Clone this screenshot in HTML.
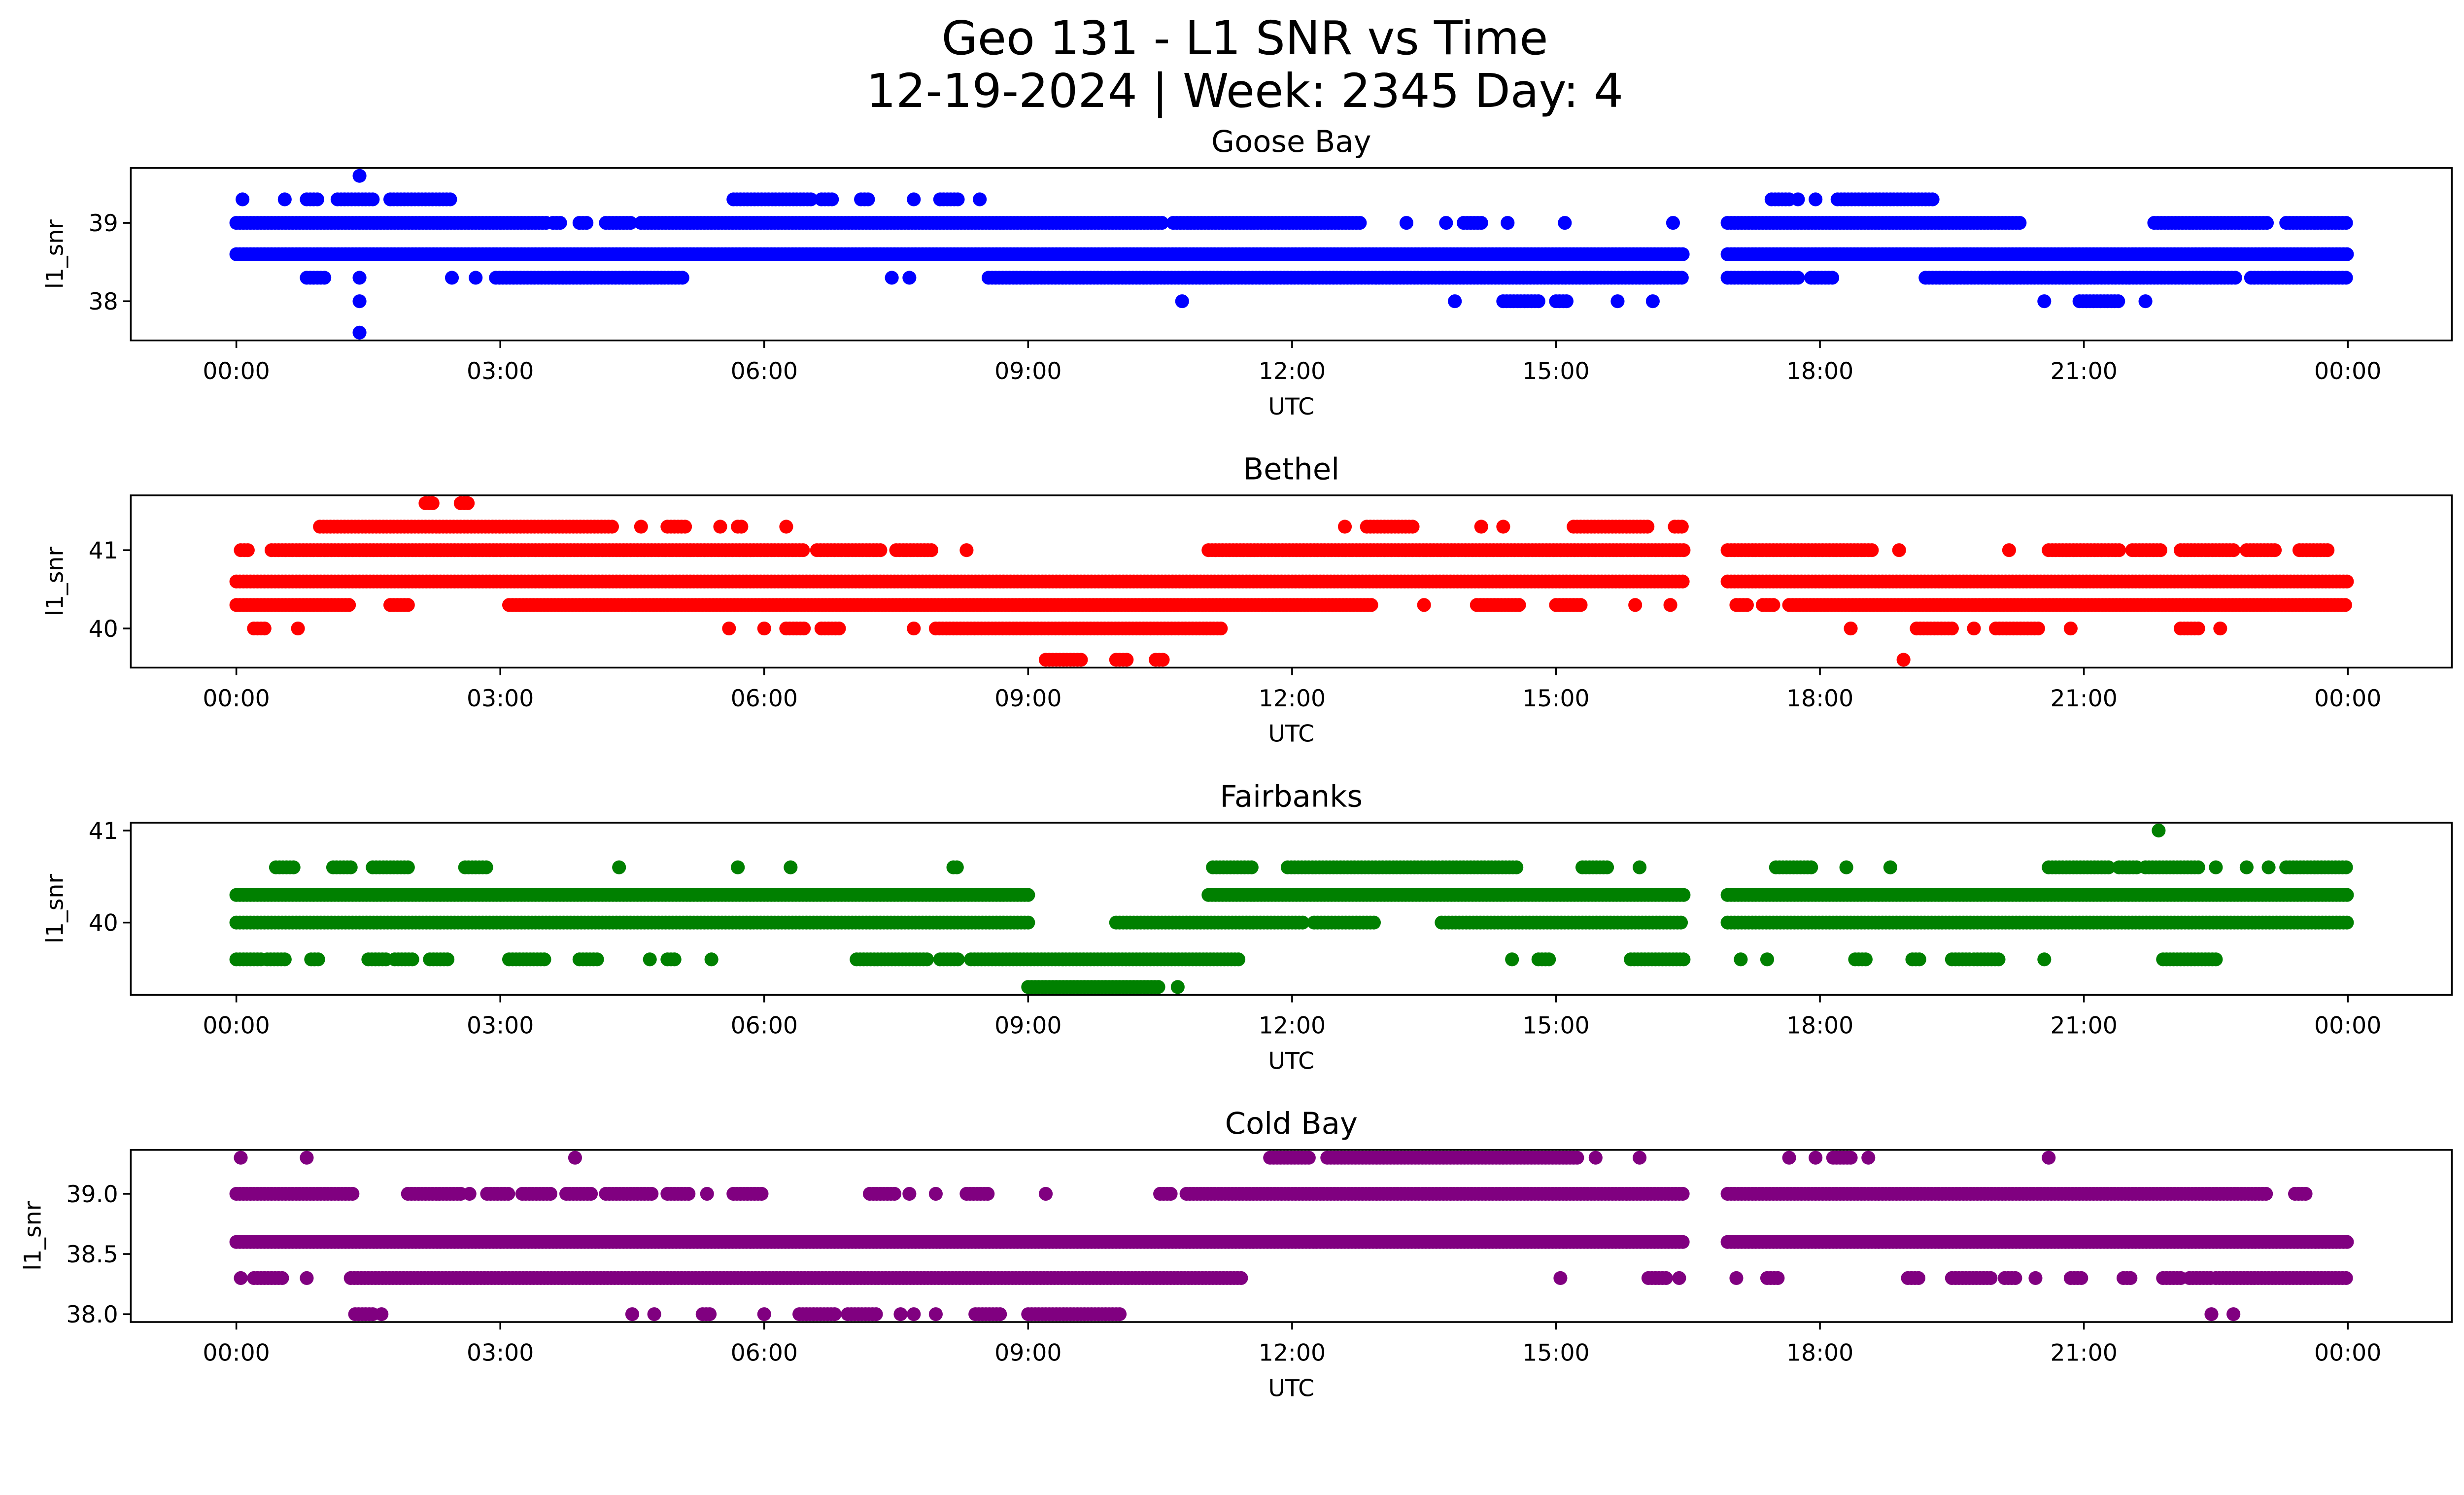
<!DOCTYPE html>
<html><head><meta charset="utf-8"><style>html,body{margin:0;padding:0;background:#fff;overflow:hidden}svg{display:block}text{font-family:"DejaVu Sans","Liberation Sans",sans-serif;fill:#000}</style></head>
<body>
<svg id="fig" xmlns="http://www.w3.org/2000/svg" width="5279" height="3033" style="width:5279px;height:3033px" viewBox="0 0 1651 948.5" preserveAspectRatio="xMinYMin meet">
<rect width="1651" height="948.5" fill="#fff"/>
<text x="790" y="34.4" font-size="29.6" text-anchor="middle">Geo 131 - L1 SNR vs Time</text>
<text x="790" y="67.8" font-size="29.6" text-anchor="middle">12-19-2024 | Week: 2345 Day: 4</text>
<g id="plots"></g>
</svg>
<script>
// Runs of observations: [startHour, endHour, snrValue]
const gooseBayRuns = [
[0,16.45,38.6],[16.95,24,38.6],
[0,3.55,39.0],[3.6,3.7,39.0],[3.9,4.0,39.0],[4.2,4.5,39.0],[4.6,10.55,39.0],[10.65,12.8,39.0],[13.3,13.3,39.0],[13.75,13.75,39.0],[13.95,14.15,39.0],[14.45,14.45,39.0],[15.1,15.1,39.0],[16.33,16.33,39.0],[16.95,20.3,39.0],[21.8,23.1,39.0],[23.3,24,39.0],
[0.07,0.07,39.3],[0.55,0.55,39.3],[0.8,0.95,39.3],[1.15,1.55,39.3],[1.75,2.45,39.3],[5.65,6.55,39.3],[6.65,6.8,39.3],[7.1,7.2,39.3],[7.7,7.7,39.3],[8.0,8.2,39.3],[8.45,8.45,39.3],[17.45,17.65,39.3],[17.75,17.75,39.3],[17.95,17.95,39.3],[18.2,19.3,39.3],
[0.8,1.0,38.3],[1.4,1.4,38.3],[2.45,2.45,38.3],[2.72,2.72,38.3],[2.95,5.1,38.3],[7.45,7.45,38.3],[7.65,7.65,38.3],[8.55,16.45,38.3],[16.95,17.75,38.3],[17.9,18.15,38.3],[19.2,22.75,38.3],[22.9,24,38.3],
[1.4,1.4,38.0],[10.75,10.75,38.0],[13.85,13.85,38.0],[14.4,14.8,38.0],[15.0,15.15,38.0],[15.7,15.7,38.0],[16.1,16.1,38.0],[20.55,20.55,38.0],[20.95,21.4,38.0],[21.7,21.7,38.0],
[1.4,1.4,37.6],[1.4,1.4,39.6]
];
const bethelRuns = [
[0,16.45,40.6],[16.95,24,40.6],
[0,1.3,40.3],[1.75,1.95,40.3],[3.1,12.9,40.3],[13.5,13.5,40.3],[14.1,14.6,40.3],[15.0,15.3,40.3],[15.9,15.9,40.3],[16.3,16.3,40.3],[17.05,17.2,40.3],[17.35,17.5,40.3],[17.65,24,40.3],
[0.05,0.15,41.0],[0.4,6.45,41.0],[6.6,7.35,41.0],[7.5,7.9,41.0],[8.3,8.3,41.0],[11.05,16.45,41.0],[16.95,18.6,41.0],[18.9,18.9,41.0],[20.15,20.15,41.0],[20.6,21.4,41.0],[21.55,21.9,41.0],[22.1,22.7,41.0],[22.85,23.2,41.0],[23.45,23.8,41.0],
[0.95,4.3,41.3],[4.6,4.6,41.3],[4.9,5.1,41.3],[5.5,5.5,41.3],[5.7,5.75,41.3],[6.25,6.25,41.3],[12.6,12.6,41.3],[12.85,13.4,41.3],[14.15,14.15,41.3],[14.4,14.4,41.3],[15.2,16.05,41.3],[16.35,16.45,41.3],
[2.15,2.25,41.6],[2.55,2.65,41.6],
[0.2,0.35,40.0],[0.7,0.7,40.0],[5.6,5.6,40.0],[6.0,6.0,40.0],[6.25,6.45,40.0],[6.65,6.85,40.0],[7.7,7.7,40.0],[7.95,11.2,40.0],[18.35,18.35,40.0],[19.1,19.5,40.0],[19.75,19.75,40.0],[20.0,20.5,40.0],[20.85,20.85,40.0],[22.1,22.3,40.0],[22.55,22.55,40.0],
[9.2,9.6,39.6],[10.0,10.15,39.6],[10.45,10.55,39.6],[18.95,18.95,39.6]
];
const fairbanksRuns = [
[0,9.0,40.3],[11.05,16.45,40.3],[16.95,24,40.3],
[0,9.0,40.0],[10.0,12.15,40.0],[12.25,12.95,40.0],[13.7,16.45,40.0],[16.95,24,40.0],
[0.45,0.65,40.6],[1.1,1.3,40.6],[1.55,1.95,40.6],[2.6,2.85,40.6],[4.35,4.35,40.6],[5.7,5.7,40.6],[6.3,6.3,40.6],[8.15,8.2,40.6],[11.1,11.55,40.6],[11.95,14.55,40.6],[15.3,15.6,40.6],[15.95,15.95,40.6],[17.5,17.9,40.6],[18.3,18.3,40.6],[18.8,18.8,40.6],[20.6,21.3,40.6],[21.4,21.6,40.6],[21.7,22.3,40.6],[22.5,22.5,40.6],[22.85,22.85,40.6],[23.1,23.1,40.6],[23.3,24,40.6],
[21.85,21.85,41.0],
[0,0.3,39.6],[0.35,0.55,39.6],[0.85,0.95,39.6],[1.5,1.7,39.6],[1.8,2.0,39.6],[2.2,2.4,39.6],[3.1,3.5,39.6],[3.9,4.1,39.6],[4.7,4.7,39.6],[4.9,5.0,39.6],[5.4,5.4,39.6],[7.05,7.85,39.6],[8.0,8.2,39.6],[8.35,11.4,39.6],[14.5,14.5,39.6],[14.8,14.95,39.6],[15.85,16.45,39.6],[17.1,17.1,39.6],[17.4,17.4,39.6],[18.4,18.55,39.6],[19.05,19.15,39.6],[19.5,19.7,39.6],[19.75,20.05,39.6],[20.55,20.55,39.6],[21.9,22.5,39.6],
[9.0,10.5,39.3],[10.7,10.7,39.3]
];
const coldBayRuns = [
[0,16.45,38.6],[16.95,24,38.6],
[0,1.35,39.0],[1.95,2.55,39.0],[2.65,2.65,39.0],[2.85,3.1,39.0],[3.25,3.6,39.0],[3.75,4.05,39.0],[4.2,4.75,39.0],[4.9,5.15,39.0],[5.35,5.35,39.0],[5.65,6.0,39.0],[7.2,7.5,39.0],[7.65,7.65,39.0],[7.95,7.95,39.0],[8.3,8.55,39.0],[9.2,9.2,39.0],[10.5,10.65,39.0],[10.8,16.45,39.0],[16.95,23.1,39.0],[23.4,23.55,39.0],
[0.05,0.05,39.3],[0.8,0.8,39.3],[3.85,3.85,39.3],[11.75,12.2,39.3],[12.4,15.25,39.3],[15.45,15.45,39.3],[15.95,15.95,39.3],[17.65,17.65,39.3],[17.95,17.95,39.3],[18.15,18.35,39.3],[18.55,18.55,39.3],[20.6,20.6,39.3],
[0.05,0.05,38.3],[0.2,0.55,38.3],[0.8,0.8,38.3],[1.3,11.45,38.3],[15.05,15.05,38.3],[16.05,16.25,38.3],[16.4,16.4,38.3],[17.05,17.05,38.3],[17.4,17.55,38.3],[19.0,19.15,38.3],[19.5,19.95,38.3],[20.1,20.25,38.3],[20.45,20.45,38.3],[20.85,21.0,38.3],[21.45,21.55,38.3],[21.9,22.1,38.3],[22.2,22.45,38.3],[22.5,24,38.3],
[1.35,1.55,38.0],[1.65,1.65,38.0],[4.5,4.5,38.0],[4.75,4.75,38.0],[5.3,5.4,38.0],[6.0,6.0,38.0],[6.4,6.8,38.0],[6.95,7.3,38.0],[7.55,7.55,38.0],[7.7,7.7,38.0],[7.95,7.95,38.0],[8.4,8.7,38.0],[9.0,10.05,38.0],[22.45,22.45,38.0],[22.7,22.7,38.0]
];
const xTickHours = [0,3,6,9,12,15,18,21,24];
const xTickLabels = ["00:00","03:00","06:00","09:00","12:00","15:00","18:00","21:00","00:00"];
const stationNames = ["Goose Bay","Bethel","Fairbanks","Cold Bay"];
const stationColors = ["#0000ff","#ff0000","#008000","#800080"];
const yTicks1 = [38,39], yTicks2 = [40,41], yTicks3 = [40,41], yTicks4 = [38.0,38.5,39.0];
const yTickLabels4 = ["38.0","38.5","39.0"];

const NS = "http://www.w3.org/2000/svg";
const root = document.getElementById('plots');
const AX_L = 83, AX_R = 1556, X0 = 150, X24 = 1490;
const panels = [
 {runs: gooseBayRuns, top: 106.6, bot: 216, yMin: 37.5, yMax: 39.7, ticks: yTicks1, labels: yTicks1.map(String), ylx: 35},
 {runs: bethelRuns, top: 314.3, bot: 423.6, yMin: 39.5, yMax: 41.7, ticks: yTicks2, labels: yTicks2.map(String), ylx: 35},
 {runs: fairbanksRuns, top: 522, bot: 631.2, yMin: 39.215, yMax: 41.085, ticks: yTicks3, labels: yTicks3.map(String), ylx: 35},
 {runs: coldBayRuns, top: 729.6, bot: 838.8, yMin: 37.935, yMax: 39.365, ticks: yTicks4, labels: yTickLabels4, ylx: 21}
];
function xScale(h){ return X0 + h*(X24-X0)/24; }
function mk(tag, attrs){ const e = document.createElementNS(NS, tag); for (const k in attrs) e.setAttribute(k, attrs[k]); return e; }
panels.forEach((p, i) => {
  const g = mk('g', {});
  
  
  const yScale = v => p.bot - (v - p.yMin)/(p.yMax - p.yMin)*(p.bot - p.top);
  const pts = mk('g', {fill: stationColors[i]});
  
  
  p.runs.forEach(r => {
    const y = yScale(r[2]);
    const step = 0.04;
    for (let h = r[0]; h <= r[1] + 1e-9; h += step) {
      const c = mk('circle', {cx: xScale(h).toFixed(2), cy: y.toFixed(2), r: 4.4});
      
      
      pts.appendChild(c);
    }
  });
  g.appendChild(pts);
  const frame = mk('rect', {x: AX_L, y: p.top, width: AX_R-AX_L, height: p.bot-p.top, fill: 'none', stroke: '#000', 'stroke-width': 1.1});
  
  
  g.appendChild(frame);
  xTickHours.forEach((h, j) => {
    const x = xScale(h);
    const t = mk('line', {x1: x, x2: x, y1: p.bot, y2: p.bot+4.8, stroke: '#000', 'stroke-width': 1.1});
    
    
    g.appendChild(t);
    const tx = mk('text', {x: x, y: p.bot+24.5, 'font-size': 14.8, 'text-anchor': 'middle'});
    
    
    tx.textContent = xTickLabels[j];
    g.appendChild(tx);
  });
  p.ticks.forEach((v, j) => {
    const y = yScale(v);
    const t = mk('line', {x1: AX_L-4.8, x2: AX_L, y1: y, y2: y, stroke: '#000', 'stroke-width': 1.1});
    
    
    g.appendChild(t);
    const tx = mk('text', {x: AX_L-8, y: y+5.3, 'font-size': 14.8, 'text-anchor': 'end'});
    
    
    tx.textContent = p.labels[j];
    g.appendChild(tx);
  });
  const xl = mk('text', {x: (AX_L+AX_R)/2, y: p.bot+47, 'font-size': 14.8, 'text-anchor': 'middle'});
  
  
  xl.textContent = 'UTC';
  g.appendChild(xl);
  const cy = (p.top+p.bot)/2;
  const yl = mk('text', {x: p.ylx, y: cy, 'font-size': 14.8, 'text-anchor': 'middle', transform: 'rotate(-90 '+p.ylx+' '+cy+')', 'dominant-baseline': 'central'});
  
  
  yl.textContent = 'l1_snr';
  g.appendChild(yl);
  const tt = mk('text', {x: (AX_L+AX_R)/2, y: p.top-10.2, 'font-size': 19, 'text-anchor': 'middle'});
  
  
  tt.textContent = stationNames[i];
  g.appendChild(tt);
  root.appendChild(g);
});
</script>
</body></html>
